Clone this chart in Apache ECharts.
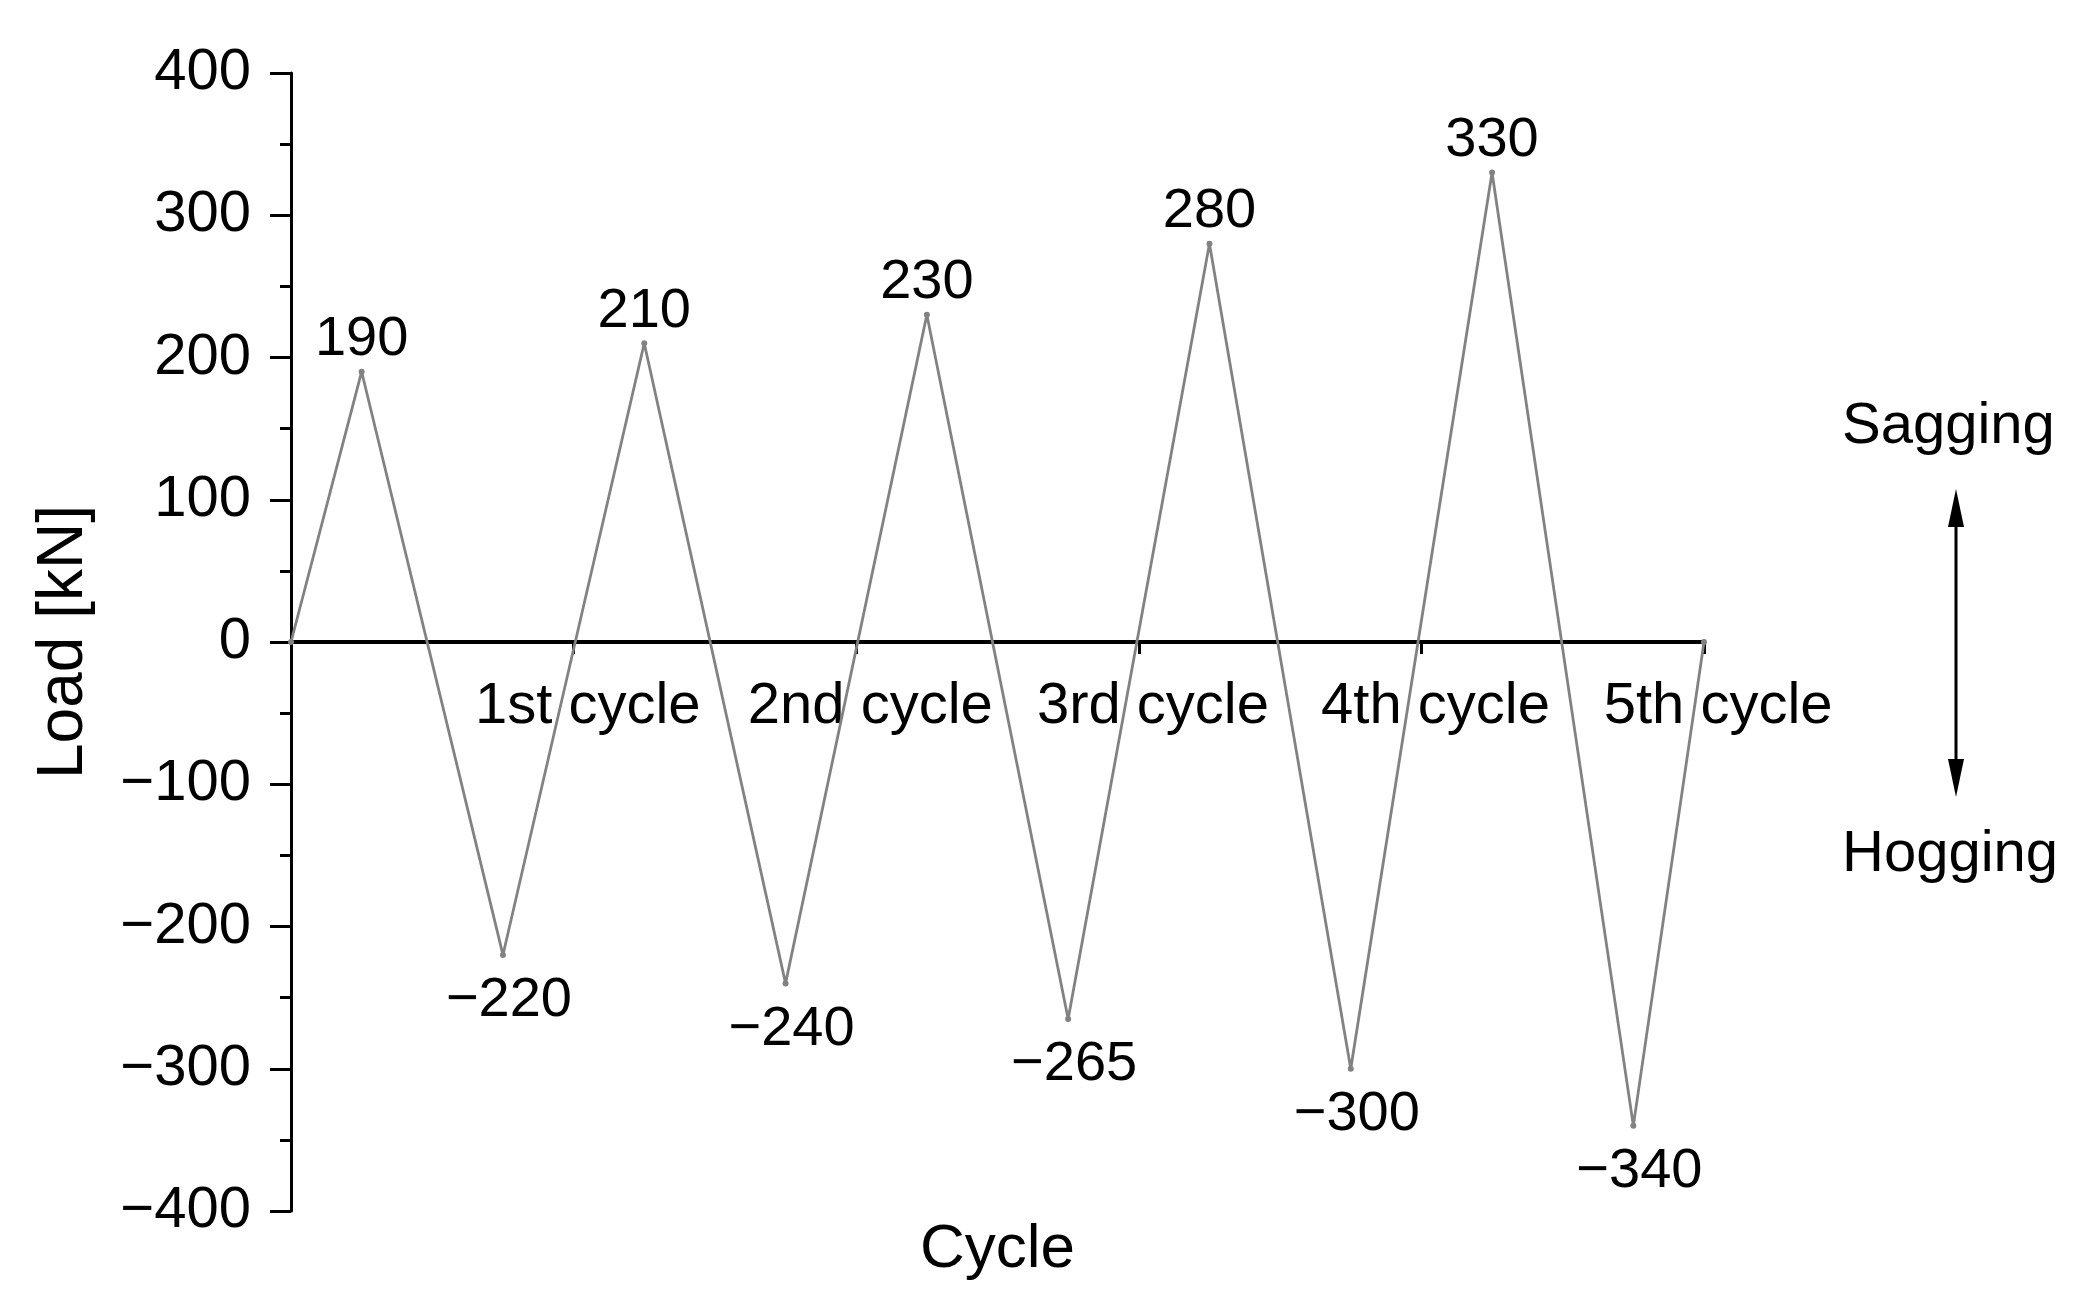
<!DOCTYPE html>
<html>
<head>
<meta charset="utf-8">
<script src="https://cdn.jsdelivr.net/npm/echarts@6/dist/echarts.min.js"></script>
<style>
html,body{margin:0;padding:0;background:#fff;}
#chart{width:2099px;height:1314px;}
</style>
</head>
<body>
<div id="chart"></div>
<script>
// ---- data ----
const cyclePos = [0, 0.5, 1.5, 2.5, 3.5, 4.5, 5.5, 6.5, 7.5, 8.5, 9.5, 10];
const loads = [0, 190, -220, 210, -240, 230, -265, 280, -300, 330, -340, 0];
const cycleNames = ['1st cycle', '2nd cycle', '3rd cycle', '4th cycle', '5th cycle'];
const cycleLabelX = [2.1, 4.1, 6.1, 8.1, 10.1];
const cycleLabelY = -46;
const yTicks = [-400, -300, -200, -100, 0, 100, 200, 300, 400];

const FONT = '"Liberation Sans", Arial, sans-serif';
const fmt = v => (v < 0 ? '\u2212' + Math.abs(v) : String(v));

const lineData = cyclePos.map((x, i) => {
  const v = loads[i];
  const item = { value: [x, v] };
  if (v === 0) {
    item.label = { show: false };
  } else if (v > 0) {
    item.label = { show: true, position: 'top', distance: 1 };
  } else {
    item.label = { show: true, position: 'bottom', distance: 15, offset: [6, 0] };
  }
  return item;
});

const cycleData = cycleLabelX.map((x, i) => [x, cycleLabelY, i]);

const chart = echarts.init(document.getElementById('chart'), null, { renderer: 'canvas' });
const option = {
  backgroundColor: '#ffffff',
  animation: false,
  textStyle: { fontFamily: FONT },
  grid: { left: 291, right: 395, top: 73, bottom: 103, containLabel: false },
  xAxis: [{
    type: 'value', min: 0, max: 10, interval: 2,
    axisLine: { show: true, onZero: true, lineStyle: { color: '#000', width: 4 } },
    axisTick: { show: true, inside: false, length: 12, lineStyle: { color: '#000', width: 3 } },
    axisLabel: { show: false },
    splitLine: { show: false }
  }, {
    type: 'value', min: 0, max: 10, position: 'bottom',
    axisLine: { show: false, onZero: false },
    axisTick: { show: false }, axisLabel: { show: false }, splitLine: { show: false },
    name: 'Cycle', nameLocation: 'middle', nameGap: 8,
    nameTextStyle: { fontSize: 62, color: '#000', fontFamily: FONT }
  }],
  yAxis: {
    type: 'value', min: -400, max: 400, interval: 100,
    axisLine: { show: true, onZero: false, lineStyle: { color: '#000', width: 3 } },
    axisTick: { show: true, inside: false, length: 21, lineStyle: { color: '#000', width: 3 } },
    minorTick: { show: true, splitNumber: 2, length: 11, lineStyle: { color: '#000', width: 3 } },
    axisLabel: { show: true, fontSize: 58, color: '#000', margin: 40, fontFamily: FONT, formatter: fmt },
    splitLine: { show: false },
    name: 'Load [kN]', nameLocation: 'middle', nameGap: 195, nameRotate: 90,
    nameTextStyle: { fontSize: 64, color: '#000', fontFamily: FONT }
  },
  series: [{
    type: 'custom',
    data: cycleData,
    clip: false,
    silent: true,
    z: 2,
    renderItem: function (params, api) {
      const pt = api.coord([api.value(0), api.value(1)]);
      return {
        type: 'text',
        x: pt[0], y: pt[1],
        style: {
          text: cycleNames[api.value(2)],
          fill: '#000000',
          font: '58px ' + FONT,
          align: 'center',
          verticalAlign: 'middle'
        }
      };
    }
  }, {
    type: 'line',
    data: lineData,
    symbol: 'circle', symbolSize: 6,
    lineStyle: { color: '#828282', width: 2.8 },
    itemStyle: { color: '#828282' },
    label: { fontSize: 56, color: '#000', fontFamily: FONT, formatter: p => fmt(p.value[1]) },
    z: 3
  }],
  graphic: [
    { type: 'text', left: 1952 - 110, top: 426 - 28, style: { text: 'Sagging', x: 0, y: 0, font: '58px ' + FONT, fill: '#000' } },
    { type: 'text', left: 1954 - 112, top: 854 - 28, style: { text: 'Hogging', x: 0, y: 0, font: '58px ' + FONT, fill: '#000' } },
    { type: 'line', shape: { x1: 1956, y1: 515, x2: 1956, y2: 771 }, style: { stroke: '#000', lineWidth: 3 } },
    { type: 'polygon', shape: { points: [[1956, 489], [1948, 527], [1964, 527]] }, style: { fill: '#000' } },
    { type: 'polygon', shape: { points: [[1956, 797], [1948, 759], [1964, 759]] }, style: { fill: '#000' } }
  ]
};
chart.setOption(option);
</script>
</body>
</html>
